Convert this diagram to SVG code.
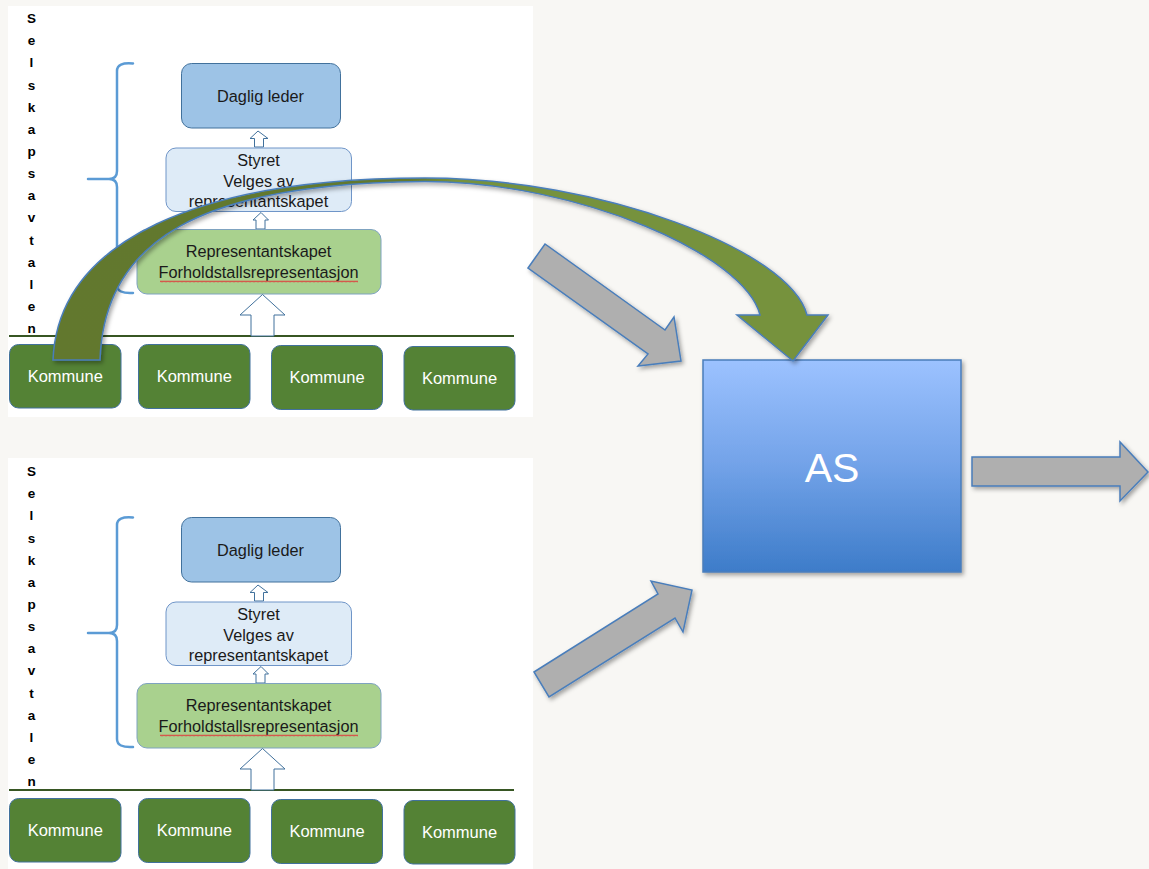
<svg xmlns="http://www.w3.org/2000/svg" width="1149" height="869" viewBox="0 0 1149 869">
<defs>
<style>
.panel{fill:#ffffff}
.vt{font-family:"Liberation Sans",Arial,sans-serif;font-weight:bold;font-size:13.5px;fill:#000;text-anchor:middle}
.lbl{font-family:"Liberation Sans",Arial,sans-serif;font-size:16.3px;fill:#1a1a1a;text-anchor:middle}
.kom{fill:#548235;stroke:#41719c;stroke-width:1}
.komt{font-family:"Liberation Sans",Arial,sans-serif;font-size:16.5px;fill:#ffffff;text-anchor:middle}
.dl{fill:#9dc3e6;stroke:#41719c;stroke-width:1}
.st{fill:#deebf7;stroke:#6f95c8;stroke-width:1}
.rp{fill:#a9d18e;stroke:#7fa3c0;stroke-width:1}
.hol{fill:#ffffff;stroke:#41719c;stroke-width:1}
.brace{fill:none;stroke:#5b9bd5;stroke-width:2.5;stroke-linecap:round}
.base{stroke:#375623;stroke-width:2}
.gray{fill:#afafaf;stroke:#4a7ebb;stroke-width:1.5;stroke-linejoin:miter}
</style>
<linearGradient id="asg" x1="0" y1="0" x2="0" y2="1">
<stop offset="0" stop-color="#9cc2ff"/>
<stop offset="0.5" stop-color="#72a2e8"/>
<stop offset="1" stop-color="#3d7cc9"/>
</linearGradient>
<linearGradient id="gag" gradientUnits="userSpaceOnUse" x1="53" y1="0" x2="828" y2="0">
<stop offset="0" stop-color="#62782f"/>
<stop offset="0.46" stop-color="#62792f"/>
<stop offset="0.52" stop-color="#76923c"/>
<stop offset="1" stop-color="#76923c"/>
</linearGradient>
<filter id="sh" x="-10%" y="-10%" width="130%" height="130%">
<feDropShadow dx="2" dy="2.5" stdDeviation="2" flood-color="#000" flood-opacity="0.35"/>
</filter>
<pattern id="wavy" patternUnits="userSpaceOnUse" width="4" height="3">
<path d="M0,2.3 L1,0.7 L2,2.3 L3,0.7 L4,2.3" fill="none" stroke="#e03a3a" stroke-width="0.8"/>
</pattern>
</defs>

<rect width="1149" height="869" fill="#f8f7f4"/>

<!-- Top panel -->
<g id="panel-top">
<rect class="panel" x="8" y="6" width="525" height="411"/>
<text class="vt" x="31.5" y="23"><tspan x="31.5" y="23">S</tspan><tspan x="31.5" y="45">e</tspan><tspan x="31.5" y="67">l</tspan><tspan x="31.5" y="89.5">s</tspan><tspan x="31.5" y="111.5">k</tspan><tspan x="31.5" y="133.5">a</tspan><tspan x="31.5" y="155.5">p</tspan><tspan x="31.5" y="178">s</tspan><tspan x="31.5" y="200">a</tspan><tspan x="31.5" y="222">v</tspan><tspan x="31.5" y="244.5">t</tspan><tspan x="31.5" y="266.5">a</tspan><tspan x="31.5" y="288.5">l</tspan><tspan x="31.5" y="310.5">e</tspan><tspan x="31.5" y="333">n</tspan></text>
<path class="brace" d="M133,63.5 Q117,62 117,71 L117,171 Q117,179 109,179 L88,179 M109,179 Q117,179 117,187 L117,285 Q117,294 133,293"/>
<line class="base" x1="9" y1="336" x2="514" y2="336"/>
</g>
<g id="t-daglig"><rect class="dl" x="181.5" y="63.5" width="159" height="64.5" rx="10"/><text class="lbl" x="260.5" y="102">Daglig leder</text></g>
<g id="t-arrow1"><path class="hol" d="M258,131 L268,138.5 L263.5,138.5 L263.5,147 L254.5,147 L254.5,138.5 L250,138.5 Z"/></g>
<g id="t-styret"><rect class="st" x="166" y="148" width="185.5" height="63.5" rx="10"/><text class="lbl" x="258.5" y="166">Styret</text><text class="lbl" x="258.5" y="186.5">Velges av</text><text class="lbl" x="258.5" y="207">representantskapet</text></g>
<g id="t-arrow2"><path class="hol" d="M261,212.5 L268.5,220 L265,220 L265,229 L256,229 L256,220 L253,220 Z"/></g>
<g id="t-rep"><rect class="rp" x="137" y="229.5" width="244" height="64.5" rx="10"/><text class="lbl" x="258.5" y="257">Representantskapet</text><text class="lbl" x="258.5" y="277.5">Forholdstallsrepresentasjon</text><g transform="translate(160,280)"><rect x="0" y="0" width="198" height="3" fill="url(#wavy)"/></g></g>
<g id="t-arrow3"><path class="hol" d="M262.5,294.5 L285,315 L274,315 L274,336 L251,336 L251,315 L240,315 Z"/></g>
<g id="t-k1"><rect class="kom" x="9.5" y="344.5" width="111.5" height="63.5" rx="9"/><text class="komt" x="65.3" y="382">Kommune</text></g>
<g id="t-k2"><rect class="kom" x="138.5" y="344.5" width="111.5" height="64" rx="9"/><text class="komt" x="194.3" y="382">Kommune</text></g>
<g id="t-k3"><rect class="kom" x="271.5" y="345.5" width="111" height="64" rx="9"/><text class="komt" x="327" y="383">Kommune</text></g>
<g id="t-k4"><rect class="kom" x="404" y="346.5" width="111" height="63.5" rx="9"/><text class="komt" x="459.5" y="383.5">Kommune</text></g>

<!-- Bottom panel -->
<g id="panel-bottom">
<rect class="panel" x="8" y="458" width="525" height="411"/>
<text class="vt" x="31.5" y="476"><tspan x="31.5" y="476">S</tspan><tspan x="31.5" y="498">e</tspan><tspan x="31.5" y="520">l</tspan><tspan x="31.5" y="542.5">s</tspan><tspan x="31.5" y="564.5">k</tspan><tspan x="31.5" y="586.5">a</tspan><tspan x="31.5" y="608.5">p</tspan><tspan x="31.5" y="631">s</tspan><tspan x="31.5" y="653">a</tspan><tspan x="31.5" y="675">v</tspan><tspan x="31.5" y="697.5">t</tspan><tspan x="31.5" y="719.5">a</tspan><tspan x="31.5" y="741.5">l</tspan><tspan x="31.5" y="763.5">e</tspan><tspan x="31.5" y="786">n</tspan></text>
<path class="brace" d="M133,517.5 Q117,516 117,525 L117,625 Q117,633 109,633 L88,633 M109,633 Q117,633 117,641 L117,739 Q117,748 133,747"/>
<line class="base" x1="9" y1="790" x2="514" y2="790"/>
</g>
<g id="b-daglig"><rect class="dl" x="181.5" y="517.5" width="159" height="64.5" rx="10"/><text class="lbl" x="260.5" y="556">Daglig leder</text></g>
<g id="b-arrow1"><path class="hol" d="M258,585 L268,592.5 L263.5,592.5 L263.5,601 L254.5,601 L254.5,592.5 L250,592.5 Z"/></g>
<g id="b-styret"><rect class="st" x="166" y="602" width="185.5" height="63.5" rx="10"/><text class="lbl" x="258.5" y="620">Styret</text><text class="lbl" x="258.5" y="640.5">Velges av</text><text class="lbl" x="258.5" y="661">representantskapet</text></g>
<g id="b-arrow2"><path class="hol" d="M261,666.5 L268.5,674 L265,674 L265,683 L256,683 L256,674 L253,674 Z"/></g>
<g id="b-rep"><rect class="rp" x="137" y="683.5" width="244" height="64.5" rx="10"/><text class="lbl" x="258.5" y="711">Representantskapet</text><text class="lbl" x="258.5" y="731.5">Forholdstallsrepresentasjon</text><g transform="translate(160,734)"><rect x="0" y="0" width="198" height="3" fill="url(#wavy)"/></g></g>
<g id="b-arrow3"><path class="hol" d="M262.5,748.5 L285,769 L274,769 L274,790 L251,790 L251,769 L240,769 Z"/></g>
<g id="b-k1"><rect class="kom" x="9.5" y="798.5" width="111.5" height="63.5" rx="9"/><text class="komt" x="65.3" y="836">Kommune</text></g>
<g id="b-k2"><rect class="kom" x="138.5" y="798.5" width="111.5" height="64" rx="9"/><text class="komt" x="194.3" y="836">Kommune</text></g>
<g id="b-k3"><rect class="kom" x="271.5" y="799.5" width="111" height="64" rx="9"/><text class="komt" x="327" y="837">Kommune</text></g>
<g id="b-k4"><rect class="kom" x="404" y="800.5" width="111" height="63.5" rx="9"/><text class="komt" x="459.5" y="837.5">Kommune</text></g>

<!-- AS node -->
<g id="as">
<rect x="703" y="360" width="258" height="212" fill="url(#asg)" stroke="#4a7ebb" stroke-width="1.5" filter="url(#sh)"/>
<text x="832" y="482" font-family="'Liberation Sans',Arial,sans-serif" font-size="41" fill="#ffffff" text-anchor="middle">AS</text>
</g>

<!-- Connectors -->
<g id="connectors">
<polygon class="gray" filter="url(#sh)" points="528,268 545,244 665,330 674,317 681,361 638,366 648,354"/>
<polygon class="gray" filter="url(#sh)" points="534,672 658,594 651,581 692,590 683,632 675,618 549,697"/>
<polygon class="gray" filter="url(#sh)" points="972,457 1120,457 1120,442 1148,472 1120,501 1120,486 972,486"/>
<path filter="url(#sh)" fill="url(#gag)" stroke="#4a7ebb" stroke-width="1.5" stroke-linejoin="miter" d="M53,360 C58,240 200,178 425,178 C600,178 790,250 807,315 L828,315 L793,361 L737,315 L760,315 C745,255 580,182 425,181.5 C200,183 104,240 100,360 Z"/>
</g>
</svg>
